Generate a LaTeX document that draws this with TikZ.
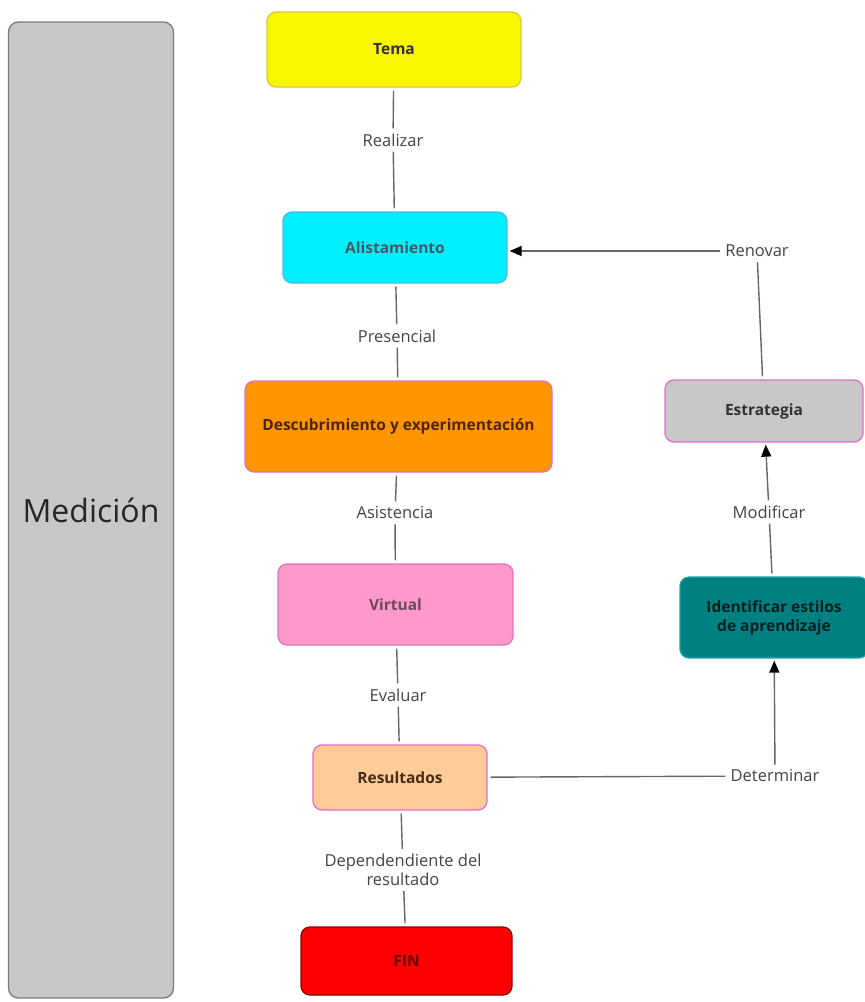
\documentclass[tikz,border=0pt]{standalone}
\usepackage{fontspec}
\setmainfont{Open Sans}
\usepackage{tikz}
\usetikzlibrary{arrows.meta}

\definecolor{medgray}{HTML}{C8C8C8}
\definecolor{medline}{HTML}{7A7A7A}
\definecolor{temafill}{HTML}{FAF500}
\definecolor{temaline}{HTML}{D8C840}
\definecolor{alistfill}{HTML}{00F0FF}
\definecolor{alistline}{HTML}{50B8E0}
\definecolor{descfill}{HTML}{FF9500}
\definecolor{pinkline}{HTML}{E070C8}
\definecolor{virtfill}{HTML}{FF99CC}
\definecolor{resfill}{HTML}{FFCC99}
\definecolor{finfill}{HTML}{FF0000}
\definecolor{finline}{HTML}{900000}
\definecolor{identfill}{HTML}{008080}
\definecolor{identline}{HTML}{20A8A8}
\definecolor{linkgray}{HTML}{666666}
\definecolor{labelgray}{HTML}{444444}

\begin{document}
\begin{tikzpicture}[x=1pt,y=-1pt,
  concept/.style={rectangle,rounded corners=9pt,line width=1.3pt,
    font=\fontsize{15.5}{19}\selectfont\bfseries,align=center,inner sep=0pt},
  linkword/.style={fill=white,text=labelgray,inner sep=2pt,
    font=\fontsize{16.5}{19}\selectfont,align=center},
  link/.style={draw=linkgray,line width=1.4pt,shorten <=3pt,shorten >=3pt},
  arrow/.style={link,-{Triangle[length=12pt,width=10pt,color=black]},shorten >=2pt}]
\useasboundingbox (0,0) rectangle (865,1002);

% big side box
\node[concept,draw=medline,fill=medgray,rounded corners=10pt,
  minimum width=165pt,minimum height=976pt,
  font=\fontsize{32}{36}\selectfont,text=black!85]
  (medicion) at (91,510) {Medición};

% main column
\node[concept,draw=temaline,fill=temafill,text=black!80,
  minimum width=254pt,minimum height=75pt]
  (tema) at (394,49.5) {Tema};
\node[concept,draw=alistline,fill=alistfill,text=black!70!cyan,
  minimum width=224pt,minimum height=71pt]
  (alist) at (395,247.5) {Alistamiento};
\node[concept,draw=pinkline,fill=descfill,text=black!70!orange,
  minimum width=307pt,minimum height=91pt]
  (desc) at (398.5,426.5) {Descubrimiento y experimentación};
\node[concept,draw=pinkline,fill=virtfill,text=black!65!magenta,
  minimum width=235pt,minimum height=81pt]
  (virtual) at (395.5,604.5) {Virtual};
\node[concept,draw=pinkline,fill=resfill,text=black!65!brown,
  minimum width=174pt,minimum height=65pt]
  (result) at (400,777.5) {Resultados};
\node[concept,draw=finline,fill=finfill,text=black!60!red,
  minimum width=211pt,minimum height=68pt]
  (fin) at (406.5,961) {FIN};

% right column
\node[concept,draw=pinkline,fill=medgray,text=black!80,
  minimum width=198pt,minimum height=62pt]
  (estr) at (764,411) {Estrategia};
\node[concept,draw=identline,fill=identfill,text=black!75!teal,
  minimum width=188pt,minimum height=81pt]
  (ident) at (774,617.5) {Identificar estilos\\de aprendizaje};

% linking words
\node[linkword] (realizar) at (393,140) {Realizar};
\node[linkword] (presencial) at (397,336) {Presencial};
\node[linkword] (asistencia) at (395,513) {Asistencia};
\node[linkword] (evaluar) at (398,695) {Evaluar};
\node[linkword] (depende) at (403,870) {Dependendiente del\\resultado};
\node[linkword] (renovar) at (757,251) {Renovar};
\node[linkword] (modificar) at (769,512) {Modificar};
\node[linkword] (determinar) at (775,776) {Determinar};

% connections
\draw[link] (tema) -- (realizar);
\draw[link] (realizar) -- (alist);
\draw[link] (alist) -- (presencial);
\draw[link] (presencial) -- (desc);
\draw[link] (desc) -- (asistencia);
\draw[link] (asistencia) -- (virtual);
\draw[link] (virtual) -- (evaluar);
\draw[link] (evaluar) -- (result);
\draw[link] (result) -- (depende);
\draw[link] (depende) -- (fin);
\draw[link] (estr) -- (renovar);
\draw[arrow] (renovar.west) -- (alist.east |- renovar.west);
\draw[link] (ident) -- (modificar);
\draw[arrow] (modificar) -- (estr);
\draw[link] (result) -- (determinar);
\draw[arrow] (determinar) -- (ident);
\end{tikzpicture}
\end{document}
